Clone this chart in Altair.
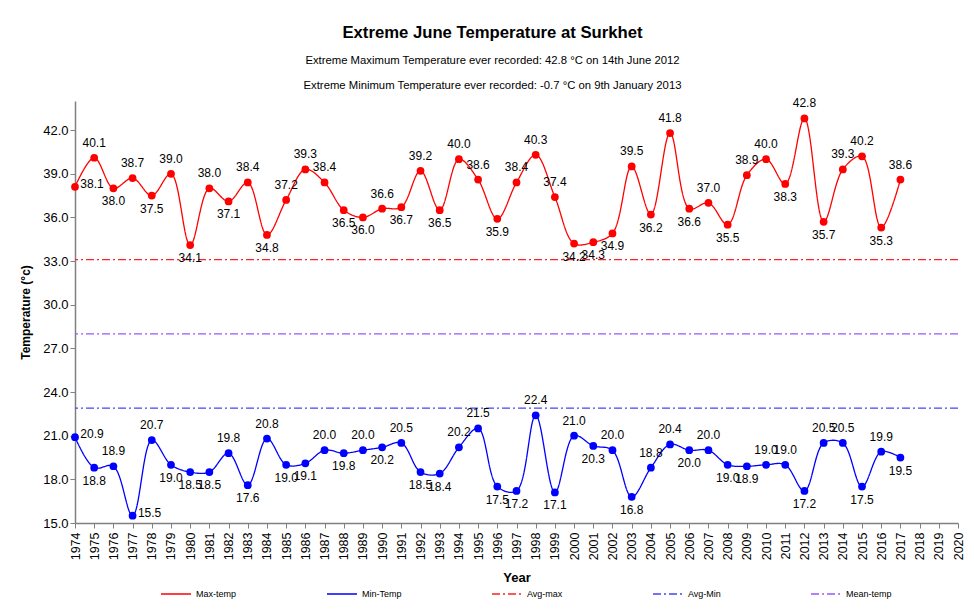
import altair as alt
import pandas as pd

years = list(range(1974, 2018))
max_temp = [38.1, 40.1, 38.0, 38.7, 37.5, 39.0, 34.1, 38.0, 37.1, 38.4,
            34.8, 37.2, 39.3, 38.4, 36.5, 36.0, 36.6, 36.7, 39.2, 36.5,
            40.0, 38.6, 35.9, 38.4, 40.3, 37.4, 34.2, 34.3, 34.9, 39.5,
            36.2, 41.8, 36.6, 37.0, 35.5, 38.9, 40.0, 38.3, 42.8, 35.7,
            39.3, 40.2, 35.3, 38.6]
min_temp = [20.9, 18.8, 18.9, 15.5, 20.7, 19.0, 18.5, 18.5, 19.8, 17.6,
            20.8, 19.0, 19.1, 20.0, 19.8, 20.0, 20.2, 20.5, 18.5, 18.4,
            20.2, 21.5, 17.5, 17.2, 22.4, 17.1, 21.0, 20.3, 20.0, 16.8,
            18.8, 20.4, 20.0, 20.0, 19.0, 18.9, 19.0, 19.0, 17.2, 20.5,
            20.5, 17.5, 19.9, 19.5]
avg_names = ["Avg-max", "Avg-Min", "Mean-temp"]
avg_values = [33.1, 22.9, 28.0]
x_ticks = list(range(1974, 2021))
y_ticks = [15.0, 18.0, 21.0, 24.0, 27.0, 30.0, 33.0, 36.0, 39.0, 42.0]
series_names = ["Max-temp", "Min-Temp", "Avg-max", "Avg-Min", "Mean-temp"]
series_colors = ["#FF0000", "#0000FF", "#FF2020", "#4646F0", "#9955FF"]
series_dashes = [[1, 0], [1, 0], [8, 3, 2, 3], [8, 3, 2, 3], [8, 3, 2, 3]]

FONT = "Liberation Sans"
Y_MIN = 15


def label_side(vals):
    """Place a value label above local highs, below local lows; at the
    left edge or when it would fall under the axis, put it to the right."""
    out = []
    for i, v in enumerate(vals):
        nb = [vals[j] for j in (i - 1, i + 1) if 0 <= j < len(vals)]
        side = "above" if v >= sum(nb) / len(nb) else "below"
        if i == 0 or (side == "below" and v - Y_MIN < 1.0):
            side = "right"
        out.append(side)
    return out


max_df = pd.DataFrame({"year": years, "value": max_temp, "series": "Max-temp",
                       "side": label_side(max_temp)})
min_df = pd.DataFrame({"year": years, "value": min_temp, "series": "Min-Temp",
                       "side": label_side(min_temp)})
line_df = pd.concat([max_df, min_df], ignore_index=True)
avg_df = pd.DataFrame({"series": avg_names, "value": avg_values})

legend = alt.Legend(orient="none", legendX=85, legendY=477, direction="horizontal",
                    columns=5, symbolType="stroke", symbolSize=900, symbolStrokeWidth=1.5,
                    labelFontSize=9, labelFont=FONT, columnPadding=87, title=None,
                    labelColor="#000000", labelOffset=4)
color = alt.Color("series:N", scale=alt.Scale(domain=series_names, range=series_colors),
                  legend=legend, title=None)
dash = alt.StrokeDash("series:N", scale=alt.Scale(domain=series_names, range=series_dashes),
                      legend=legend, title=None)

x_axis = alt.Axis(values=x_ticks, format="d", labelAngle=-90, title="Year",
                  grid=False, labelFontSize=12.5, titleFontSize=13, titlePadding=12,
                  labelPadding=4, labelOverlap=False, labelBound=False, labelSeparation=0)
y_axis = alt.Axis(values=y_ticks, format=".1f", title="Temperature (°c)", grid=False,
                  labelFontSize=13, titleFontSize=12, titlePadding=10)
x = alt.X("year:Q", scale=alt.Scale(domain=[1974, 2020], nice=False, zero=False), axis=x_axis)
y = alt.Y("value:Q", scale=alt.Scale(domain=[Y_MIN, 44], nice=False, zero=False), axis=y_axis)

lines = alt.Chart(line_df).mark_line(interpolate="catmull-rom", strokeWidth=1.3).encode(
    x=x, y=y, color=color, strokeDash=dash)
rules = alt.Chart(avg_df).mark_rule(strokeWidth=1.3).encode(
    y=y, color=color, strokeDash=dash)
pts_max = alt.Chart(max_df).mark_circle(size=60, color="#FF0000", opacity=1).encode(x=x, y=y)
pts_min = alt.Chart(min_df).mark_circle(size=60, color="#0000FF", opacity=1).encode(x=x, y=y)


def value_labels(side, **offsets):
    return alt.Chart(line_df).transform_filter(alt.datum.side == side).mark_text(
        font=FONT, fontSize=12, color="#000000", **offsets).encode(
        x=x, y=y, text=alt.Text("value:Q", format=".1f"))


text_above = value_labels("above", dy=-15)
text_below = value_labels("below", dy=13)
text_right = value_labels("right", dx=17, dy=-3)

chart = alt.layer(lines, rules, pts_max, pts_min, text_above, text_below, text_right).properties(
    width=883, height=422,
    autosize=alt.AutoSizeParams(type="none"),
    padding={"left": 67, "top": 93, "right": 8, "bottom": 80},
    title=alt.TitleParams(
        "Extreme June Temperature at Surkhet",
        subtitle=["Extreme Maximum Temperature ever recorded: 42.8 °C on 14th June 2012",
                  "Extreme Minimum Temperature ever recorded: -0.7 °C on 9th January 2013"],
        font=FONT, fontSize=16.7, fontWeight="bold", color="#000000",
        subtitleFont=FONT, subtitleFontSize=11.3, subtitleColor="#000000",
        subtitleLineHeight=25, subtitlePadding=13, offset=6, anchor="middle", dx=-24),
).configure_view(stroke=None).configure_axis(
    domainColor="#808080", domainWidth=1.5, tickColor="#808080", tickSize=5,
    labelFont=FONT, titleFont=FONT, labelColor="#000000", titleColor="#000000",
    titleFontWeight="bold").configure_axisX(labelOverlap=False)

chart.save("out.html", embed_options={"renderer": "svg", "actions": False})
